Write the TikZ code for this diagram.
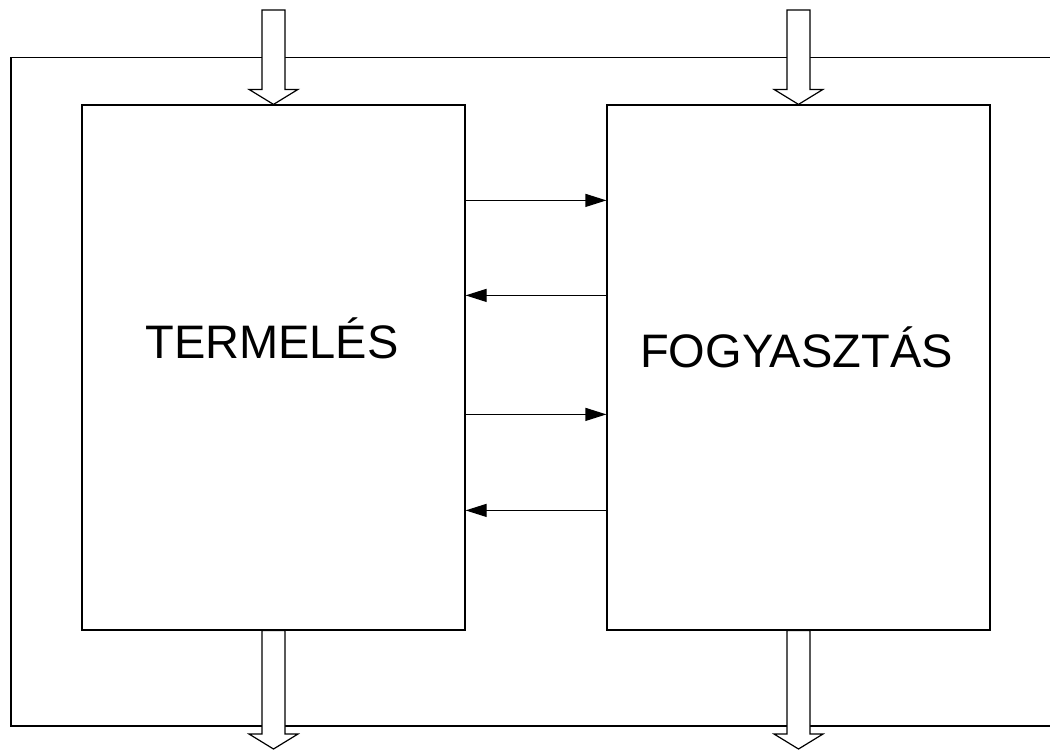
\documentclass[tikz,border=0pt]{standalone}
\usepackage{fontspec}
\setmainfont{Liberation Sans}
\usetikzlibrary{arrows.meta,positioning,calc}

% block arrow pointing down, from #1 to its tip #2
\newcommand{\fatdown}[2]{%
  \draw[fat] ($(#1)+(-11.5,0)$) -- ($(#2)+(-11.5,-15)$) -- ($(#2)+(-24.5,-15)$) -- (#2)
    -- ($(#2)+(24.5,-15)$) -- ($(#2)+(11.5,-15)$) -- ($(#1)+(11.5,0)$) -- cycle;}

\begin{document}
\begin{tikzpicture}[
  x=0.5pt, y=-0.5pt,
  block/.style={draw, line width=0.6pt, minimum width=191.5pt, minimum height=262.5pt, inner sep=0pt},
  big/.style={font=\fontsize{23.5}{28}\selectfont, anchor=base, inner sep=0pt},
  flow/.style={-{Triangle[length=10.5pt, width=6.5pt]}, line width=0.6pt},
  fat/.style={draw, fill=white, line width=0.6pt, line join=miter},
  frame/.style={draw, line width=0.6pt}
]
\useasboundingbox (0,0) rectangle (1050,750);

% outer frame, open to the right
\coordinate (ftop) at (1050,57.5);
\coordinate (fbot) at (1050,726);
\draw[frame] (ftop) -- (11,57.5) -- (11,726) -- (fbot);

\node[block] (prod) at (273.5,367.5) {};
\node[block] (cons) at (798.5,367.5) {};

\node[big] (prodtxt) at ($(prod.center)+(-1.5,-9.5)$) {TERMELÉS};
\node[big] (constxt) at ($(cons.center)+(-2,-0.5)$) {FOGYASZTÁS};

% exchange between the two blocks
\draw[flow] ($(prod.north east)+(0,96)$) -- ($(cons.north west)+(0,96)$);
\draw[flow] ($(cons.north west)+(0,191)$) -- ($(prod.north east)+(0,191)$);
\draw[flow] ($(prod.north east)+(0,310)$) -- ($(cons.north west)+(0,310)$);
\draw[flow] ($(cons.north west)+(0,406)$) -- ($(prod.north east)+(0,406)$);

% inputs and outputs
\coordinate (prodin) at (273.5,10);
\coordinate (consin) at (798.5,10);
\coordinate (prodout) at (273.5,749);
\coordinate (consout) at (798.5,749);
\fatdown{prodin}{prod.north}
\fatdown{consin}{cons.north}
\fatdown{prod.south}{prodout}
\fatdown{cons.south}{consout}

\end{tikzpicture}
\end{document}
